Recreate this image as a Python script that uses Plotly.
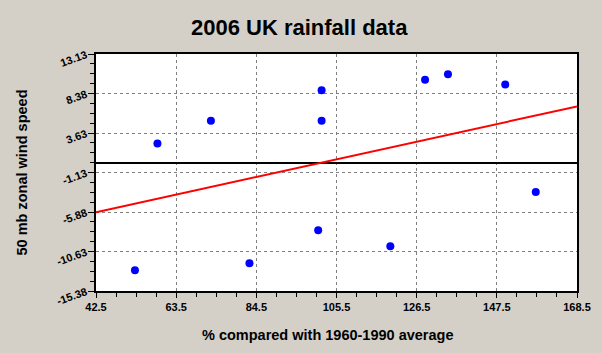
import numpy as np
import plotly.graph_objects as go

# Data
rain_pct = [101.6, 101.6, 72.6, 58.6, 100.7, 82.7, 52.7, 128.7, 134.7, 149.7, 157.7, 119.6]
wind_speed = [8.78, 5.10, 5.10, 2.37, -8.08, -12.05, -12.89, 10.03, 10.70, 9.46, -3.48, -10.01]

x_tick_vals = [42.5, 63.5, 84.5, 105.5, 126.5, 147.5, 168.5]
x_tick_text = ["42.5", "63.5", "84.5", "105.5", "126.5", "147.5", "168.5"]
y_tick_vals = [-15.38, -10.63, -5.88, -1.13, 3.62, 8.37, 13.12]
y_tick_text = ["-15.38", "-10.63", "-5.88", "-1.13", "3.63", "8.38", "13.13"]

x_range = [42.5, 168.5]
y_range = [-15.38, 13.13]

# linear trend line
coef = np.polyfit(rain_pct, wind_speed, 1)
trend_x = np.array(x_range)
trend_y = np.polyval(coef, trend_x)

fig = go.Figure()
fig.add_trace(go.Scatter(x=trend_x, y=trend_y, mode="lines",
                         line=dict(color="#FF0000", width=2), hoverinfo="skip"))
fig.add_trace(go.Scatter(x=rain_pct, y=wind_speed, mode="markers",
                         marker=dict(color="#0000FF", size=8, line=dict(width=0))))

grid = dict(gridcolor="#808080", gridwidth=1, griddash="3px,3px")
fig.update_layout(
    width=602, height=353,
    margin=dict(l=96, r=25, t=54, b=62),
    paper_bgcolor="#D4D0C8",
    plot_bgcolor="#FFFFFF",
    showlegend=False,
    font=dict(family="Arial, Liberation Sans, sans-serif", color="#000000"),
    title=dict(text="<b>2006 UK rainfall data</b>", x=0.497, xanchor="center",
               y=0.923, yanchor="middle", font=dict(size=22, color="#000000")),
    xaxis=dict(range=x_range, tickmode="array", tickvals=x_tick_vals,
               ticktext=["<b>%s</b>" % t for t in x_tick_text],
               ticks="outside", ticklen=5, tickcolor="#000000", tickwidth=1,
               minor=dict(ticks="outside", ticklen=4, dtick=5.25, tick0=42.5,
                          tickcolor="#000000", showgrid=False),
               showline=True, linecolor="#000000", linewidth=1.5, mirror=True,
               showgrid=True, zeroline=False,
               tickfont=dict(size=11),
               **grid),
    yaxis=dict(range=y_range, tickmode="array", tickvals=y_tick_vals,
               ticktext=["<b>%s</b>" % t for t in y_tick_text],
               ticks="outside", ticklen=6, tickcolor="#000000", tickwidth=1,
               minor=dict(ticks="outside", ticklen=4, dtick=1.1875, tick0=-15.38,
                          tickcolor="#000000", showgrid=False),
               showline=True, linecolor="#000000", linewidth=1.5, mirror=True,
               showgrid=True, zeroline=True, zerolinecolor="#000000", zerolinewidth=1.5,
               tickangle=-20,
               tickfont=dict(size=11),
               title=dict(text="<b>50 mb zonal wind speed</b>",
                          font=dict(size=14.5), standoff=24),
               **grid),
    annotations=[dict(text="<b>% compared with 1960-1990 average</b>",
                      xref="paper", yref="paper", x=0.481, y=-0.186,
                      xanchor="center", yanchor="middle", showarrow=False,
                      font=dict(size=14.5, color="#000000"))],
)

fig.write_html("out.html")
